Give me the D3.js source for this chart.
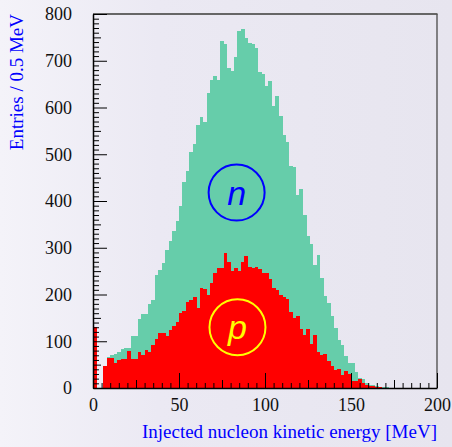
<!DOCTYPE html>
<html>
<head>
<meta charset="utf-8">
<script src="https://cdn.jsdelivr.net/npm/d3@7"></script>
<style>
  html, body { margin: 0; padding: 0; background: #eceaf3; }
  svg { display: block; }
</style>
</head>
<body>
<svg id="chart" width="452" height="447"></svg>
<script>
// Bin layout: 2 MeV wide bins starting at 0 MeV
const binWidth = 2;
const xDomain = [0, 200];
const yDomain = [0, 800];
const xMajorTicks = [0, 50, 100, 150, 200];
const yMajorTicks = [0, 100, 200, 300, 400, 500, 600, 700, 800];

// Neutron entries per bin (green)
const neutronCounts = [
  0, 0, 0, 45, 66, 70, 73, 78, 83, 86,
  86, 111, 111, 148, 158, 158, 180, 188, 242, 252,
  268, 296, 315, 336, 358, 390, 440, 465, 505, 522,
  562, 579, 568, 631, 659, 667, 659, 742, 736, 685,
  678, 709, 764, 767, 748, 739, 735, 727, 677, 672,
  646, 657, 603, 624, 582, 541, 526, 475, 473, 413,
  425, 370, 326, 308, 263, 284, 235, 197, 182, 153,
  128, 103, 92, 68, 53, 53, 34, 22, 19, 10,
  6, 6, 4, 3, 2, 2, 0, 0, 0, 0,
  0, 0, 0, 0, 0, 0, 0, 0, 0, 0
];

// Proton entries per bin (red)
const protonCounts = [
  130, 0, 0, 48, 64, 64, 54, 60, 62, 61,
  79, 61, 63, 76, 71, 81, 78, 92, 104, 117,
  117, 111, 124, 133, 142, 161, 165, 185, 188, 194,
  171, 214, 212, 200, 224, 247, 256, 256, 289, 270,
  251, 257, 251, 270, 283, 258, 256, 258, 254, 245,
  245, 233, 213, 210, 199, 195, 190, 163, 149, 155,
  126, 113, 126, 94, 113, 78, 71, 73, 58, 47,
  39, 40, 28, 37, 31, 14, 14, 19, 10, 6,
  5, 4, 3, 2, 1, 0, 0, 0, 0, 0,
  0, 0, 0, 0, 0, 0, 0, 0, 0, 0
];

const yTitle = "Entries / 0.5 MeV";
const xTitle = "Injected nucleon kinetic energy [MeV]";
const labels = [
  {text: "n", energy: 83.5, value: 418, color: "#0000ff"},
  {text: "p", energy: 84, value: 130, color: "#ffff00"}
];

const W = 452, H = 447;
const mL = 93, mR = 437, mT = 14, mB = 388;
const svg = d3.select("#chart");

// background gradient
const defs = svg.append("defs");
const grad = defs.append("linearGradient").attr("id", "bg").attr("x1", "0").attr("x2", "1").attr("y1", "0").attr("y2", "0");
grad.append("stop").attr("offset", "0").attr("stop-color", "#f4f3f9");
grad.append("stop").attr("offset", "0.35").attr("stop-color", "#ebe9f3");
grad.append("stop").attr("offset", "1").attr("stop-color", "#e7e5ef");
svg.append("rect").attr("width", W).attr("height", H).attr("fill", "url(#bg)");

const x = d3.scaleLinear().domain(xDomain).range([mL, mR]);
const y = d3.scaleLinear().domain(yDomain).range([mB, mT]);

function drawHist(counts, color) {
  svg.append("g").attr("shape-rendering", "crispEdges")
    .selectAll("rect").data(counts).join("rect")
    .attr("x", (d, i) => x(i * binWidth))
    .attr("width", (d, i) => x((i + 1) * binWidth) - x(i * binWidth) + 0.3)
    .attr("y", d => y(d))
    .attr("height", d => y(0) - y(d))
    .attr("fill", color);
}
drawHist(neutronCounts, "#66cdaa");
drawHist(protonCounts, "#ff0000");

// frame top & right
svg.append("line").attr("x1", mL).attr("x2", mR + 0.5).attr("y1", mT).attr("y2", mT)
  .attr("stroke", "#666").attr("stroke-width", 2);
svg.append("line").attr("x1", mR).attr("x2", mR).attr("y1", mT).attr("y2", mB)
  .attr("stroke", "#555").attr("stroke-width", 1.4);

const fontSerif = "'Liberation Serif', 'Times New Roman', serif";

// minor ticks
function minorValues(step, max) {
  const out = [];
  for (let v = 0; v <= max + 1e-9; v += step) out.push(+v.toFixed(6));
  return out;
}
const yMinor = minorValues(10, 800).filter(v => v % 50 !== 0);
const yMid = minorValues(50, 800).filter(v => v % 100 !== 0);
const xMinor = minorValues(5, 200).filter(v => v % 25 !== 0);
const xMid = minorValues(25, 200).filter(v => v % 50 !== 0);

function tickOnly(axis) {
  return g => { g.call(axis); g.select(".domain").remove(); g.selectAll("text").remove(); };
}
svg.append("g").attr("transform", `translate(${mL},0)`)
  .call(tickOnly(d3.axisLeft(y).tickValues(yMinor).tickSize(-6)));
svg.append("g").attr("transform", `translate(${mL},0)`)
  .call(tickOnly(d3.axisLeft(y).tickValues(yMid).tickSize(-8)));
svg.append("g").attr("transform", `translate(0,${mB})`)
  .call(tickOnly(d3.axisBottom(x).tickValues(xMinor).tickSize(-5)));
svg.append("g").attr("transform", `translate(0,${mB})`)
  .call(tickOnly(d3.axisBottom(x).tickValues(xMid).tickSize(-8)));

// major axes
const yAxis = svg.append("g").attr("transform", `translate(${mL},0)`)
  .call(d3.axisLeft(y).tickValues(yMajorTicks).tickSizeInner(-14).tickSizeOuter(0).tickPadding(21).tickFormat(d3.format("d")));
const xAxis = svg.append("g").attr("transform", `translate(0,${mB})`)
  .call(d3.axisBottom(x).tickValues(xMajorTicks).tickSizeInner(-15).tickSizeOuter(0).tickPadding(10).tickFormat(d3.format("d")));
[yAxis, xAxis].forEach(g => {
  g.selectAll("text").attr("font-family", fontSerif).attr("font-size", 18).attr("fill", "#111");
  g.select(".domain").attr("stroke", "#000").attr("stroke-width", 1.5);
});
svg.selectAll(".tick line").attr("stroke", "#000").attr("stroke-width", 1);

// titles
svg.append("text")
  .attr("transform", `translate(23,${mT}) rotate(-90)`)
  .attr("text-anchor", "end")
  .attr("font-family", fontSerif).attr("font-size", 19).attr("fill", "#0000ff")
  .text(yTitle);
svg.append("text")
  .attr("x", mR).attr("y", 438)
  .attr("text-anchor", "end")
  .attr("font-family", fontSerif).attr("font-size", 19).attr("fill", "#0000ff")
  .text(xTitle);

// particle markers
labels.forEach(l => {
  const cx = x(l.energy), cy = y(l.value);
  svg.append("circle").attr("cx", cx).attr("cy", cy).attr("r", 28)
    .attr("fill", "none").attr("stroke", l.color).attr("stroke-width", 2);
  svg.append("text").attr("x", cx).attr("y", cy + 12)
    .attr("text-anchor", "middle")
    .attr("font-family", "'Liberation Sans', Arial, sans-serif")
    .attr("font-style", "italic").attr("font-size", 34)
    .attr("fill", l.color).text(l.text);
});
</script>
</body>
</html>
